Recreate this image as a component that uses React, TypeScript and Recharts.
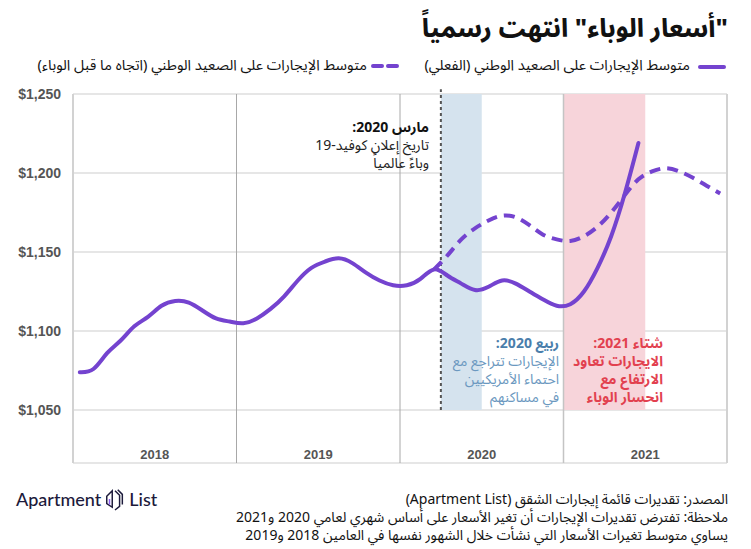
import React from "react";
import {
  LineChart,
  Line,
  XAxis,
  YAxis,
  CartesianGrid,
  ReferenceLine,
  ReferenceArea,
} from "recharts";

// ---- Data ----
const yearLabels = ["2018", "2019", "2020", "2021"];
const yTicks = [1050, 1100, 1150, 1200, 1250];

// Monthly national median rent (actual), Jan 2018 .. Jun 2021
const actualRent = [
  1074, 1076, 1086, 1094, 1103, 1109, 1116, 1119, 1118, 1113, 1108, 1106,
  1105, 1108, 1114, 1122, 1132, 1140, 1144, 1146, 1143, 1137, 1132, 1129,
  1129, 1133, 1139, 1135, 1130, 1126, 1128, 1132, 1130, 1125, 1120, 1116,
  1117, 1125, 1140, 1160, 1187, 1219,
];

// Pre-pandemic trend, Mar 2020 .. Dec 2021
const trendStartMonth = 26;
const trendRent = [
  1139, 1148, 1158, 1165, 1170, 1173, 1172, 1167, 1161, 1158, 1157, 1160,
  1166, 1175, 1186, 1196, 1201, 1203, 1201, 1197, 1192, 1187,
];

// shaded periods (month indices from Jan 2018)
const springBand = [27, 30];
const winterBand = [36, 42];
const covidMonth = 27;

const titleText = "\"أسعار الوباء\" انتهت رسمياً";
const legendActual = "متوسط الإيجارات على الصعيد الوطني (الفعلي)";
const legendTrend = "متوسط الإيجارات على الصعيد الوطني (اتجاه ما قبل الوباء)";
const marchNote = ["مارس 2020:", "تاريخ إعلان كوفيد-19", "وباءً عالمياً"];
const springNote = ["ربيع 2020:", "الإيجارات تتراجع مع", "احتماء الأمريكيين", "في مساكنهم"];
const winterNote = ["شتاء 2021:", "الايجارات تعاود", "الارتفاع مع", "انحسار الوباء"];
const footerLines = [
  "المصدر: تقديرات قائمة إيجارات الشقق (Apartment List)",
  "ملاحظة: تفترض تقديرات الإيجارات أن تغير الأسعار على أساس شهري لعامي 2020 و2021",
  "يساوي متوسط تغيرات الأسعار التي نشأت خلال الشهور نفسها في العامين 2018 و2019",
];

const rows = Array.from({ length: 48 }, (_, i) => ({
  x: i + 0.5,
  actual: i < actualRent.length ? actualRent[i] : null,
  trend:
    i >= trendStartMonth && i - trendStartMonth < trendRent.length
      ? trendRent[i - trendStartMonth]
      : null,
}));

const PURPLE = "#7443cf";
const AR_FONT = "'Noto Sans Arabic', 'Noto Kufi Arabic', 'DejaVu Sans', sans-serif";
const LAT_FONT = "'Liberation Sans', Arial, sans-serif";

const YearTick = (props: any) => {
  const { x, y, payload } = props;
  const idx = Math.round((payload.value - 6) / 12);
  return (
    <text
      x={x}
      y={y - 4}
      textAnchor="middle"
      fill="#555"
      fontSize={13}
      fontWeight="bold"
      fontFamily={LAT_FONT}
    >
      {yearLabels[idx]}
    </text>
  );
};

const fmtDollar = (v: number) => "$" + v.toLocaleString("en-US");

const Note = ({
  lines,
  right,
  top,
  headColor,
  bodyColor,
  bodyBold,
}: {
  lines: string[];
  right: number;
  top: number;
  headColor: string;
  bodyColor: string;
  bodyBold: boolean;
}) => (
  <div
    style={{
      position: "absolute",
      right,
      top,
      direction: "rtl",
      textAlign: "right",
      fontFamily: AR_FONT,
      fontSize: 14,
      lineHeight: "18px",
      whiteSpace: "nowrap",
    }}
  >
    {lines.map((l, i) => (
      <div
        key={i}
        style={{
          color: i === 0 ? headColor : bodyColor,
          fontWeight: i === 0 || bodyBold ? 700 : 400,
          height: 18,
        }}
      >
        {l}
      </div>
    ))}
  </div>
);

export default function App() {
  return (
    <div
      style={{
        position: "absolute",
        left: 0,
        top: 0,
        width: 751,
        height: 549,
        background: "#fff",
        overflow: "hidden",
      }}
    >
      {/* Title */}
      <div
        style={{
          position: "absolute",
          right: 23,
          top: 3,
          direction: "rtl",
          fontFamily: AR_FONT,
          fontSize: 25,
          fontWeight: 800,
          color: "#111",
          whiteSpace: "nowrap",
        }}
      >
        {titleText}
      </div>

      {/* Legend */}
      <div
        style={{
          position: "absolute",
          right: 25,
          top: 65,
          width: 28,
          height: 4,
          borderRadius: 2,
          background: PURPLE,
        }}
      />
      <div
        style={{
          position: "absolute",
          right: 61,
          top: 56,
          direction: "rtl",
          fontFamily: AR_FONT,
          fontSize: 14.6,
          color: "#111",
          whiteSpace: "nowrap",
          lineHeight: "20px",
        }}
      >
        {legendActual}
      </div>
      <svg
        style={{ position: "absolute", left: 370, top: 62 }}
        width={32}
        height={8}
      >
        <line
          x1={3}
          y1={4}
          x2={29}
          y2={4}
          stroke={PURPLE}
          strokeWidth={4}
          strokeDasharray="9 6"
          strokeLinecap="round"
        />
      </svg>
      <div
        style={{
          position: "absolute",
          right: 751 - 367,
          top: 56,
          direction: "rtl",
          fontFamily: AR_FONT,
          fontSize: 14.6,
          color: "#111",
          whiteSpace: "nowrap",
          lineHeight: "20px",
        }}
      >
        {legendTrend}
      </div>

      <LineChart
        width={751}
        height={549}
        data={rows}
        margin={{ top: 94, right: 24, bottom: 66, left: 0 }}
        style={{ position: "absolute", left: 0, top: 0 }}
      >
        <ReferenceArea
          x1={springBand[0]}
          x2={springBand[1]}
          y1={1050}
          y2={1250}
          fill="#d5e3ee"
          fillOpacity={1}
          stroke="none"
        />
        <ReferenceArea
          x1={winterBand[0]}
          x2={winterBand[1]}
          y1={1050}
          y2={1250}
          fill="#f7d4da"
          fillOpacity={1}
          stroke="none"
        />
        <CartesianGrid
          vertical={false}
          stroke="#e6e6e6"
          strokeWidth={2}
        />
        <XAxis
          type="number"
          dataKey="x"
          domain={[0, 48]}
          ticks={[6, 18, 30, 42]}
          axisLine={false}
          tickLine={false}
          tickSize={0}
          tickMargin={0}
          height={20}
          tick={<YearTick />}
          interval={0}
        />
        <YAxis
          type="number"
          domain={[1016.5, 1250]}
          ticks={yTicks}
          allowDataOverflow
          axisLine={false}
          tickLine={false}
          tickSize={0}
          tickMargin={12}
          width={73}
          interval={0}
          tickFormatter={fmtDollar}
          tick={{
            fill: "#555",
            fontSize: 14,
            fontWeight: "bold",
            fontFamily: LAT_FONT,
          }}
        />
        <ReferenceLine x={0} stroke="#d2d2d2" strokeWidth={2} />
        <ReferenceLine x={12} stroke="#a8a8a8" strokeWidth={1} />
        <ReferenceLine x={24} stroke="#a8a8a8" strokeWidth={1} />
        <ReferenceLine x={36} stroke="#c4c4c4" strokeWidth={1.5} />
        <ReferenceLine x={48} stroke="#d2d2d2" strokeWidth={2} />
        <ReferenceLine
          segment={[
            { x: covidMonth, y: 1050 },
            { x: covidMonth, y: 1253 },
          ]}
          stroke="#555"
          strokeWidth={2}
          strokeDasharray="3 3"
          ifOverflow="visible"
        />
        <Line
          dataKey="trend"
          type="natural"
          stroke={PURPLE}
          strokeWidth={4}
          strokeDasharray="11 7"
          dot={false}
          activeDot={false}
          isAnimationActive={false}
          connectNulls={false}
        />
        <Line
          dataKey="actual"
          type="natural"
          stroke={PURPLE}
          strokeWidth={4}
          strokeLinecap="round"
          dot={false}
          activeDot={false}
          isAnimationActive={false}
          connectNulls={false}
        />
      </LineChart>

      {/* Annotations */}
      <Note
        lines={marchNote}
        right={751 - 429}
        top={119}
        headColor="#111"
        bodyColor="#222"
        bodyBold={false}
      />
      <Note
        lines={springNote}
        right={751 - 559}
        top={335}
        headColor="#4a7eab"
        bodyColor="#6b98c0"
        bodyBold={false}
      />
      <Note
        lines={winterNote}
        right={751 - 663}
        top={335}
        headColor="#e2414f"
        bodyColor="#e2414f"
        bodyBold={true}
      />

      {/* Logo */}
      <div
        style={{
          position: "absolute",
          left: 16,
          top: 487,
          display: "flex",
          alignItems: "center",
          fontFamily: "Lato, 'Open Sans', sans-serif",
          fontSize: 18,
          color: "#1c1a3b",
          fontWeight: 500,
        }}
      >
        <span>Apartment</span>
        <svg width={22} height={24} viewBox="0 0 24 24" style={{ margin: "0 3px" }}>
          <path d="M3 9 L9 3 L9 21 L3 17 Z" fill="none" stroke="#1c1a3b" strokeWidth={1.6} />
          <path d="M6 12 L6 18" stroke="#8a5cf0" strokeWidth={1.6} />
          <path d="M12 3 L17 8 L17 20 L12 24" fill="none" stroke="#1c1a3b" strokeWidth={1.6} />
          <path d="M15 2 L20 7 L20 18" fill="none" stroke="#1c1a3b" strokeWidth={1.6} />
        </svg>
        <span>List</span>
      </div>

      {/* Footer */}
      <div
        style={{
          position: "absolute",
          right: 23,
          top: 491,
          direction: "rtl",
          textAlign: "right",
          fontFamily: AR_FONT,
          fontSize: 14,
          lineHeight: "18px",
          color: "#111",
          whiteSpace: "nowrap",
        }}
      >
        {footerLines.map((l, i) => (
          <div key={i}>{l}</div>
        ))}
      </div>
    </div>
  );
}
